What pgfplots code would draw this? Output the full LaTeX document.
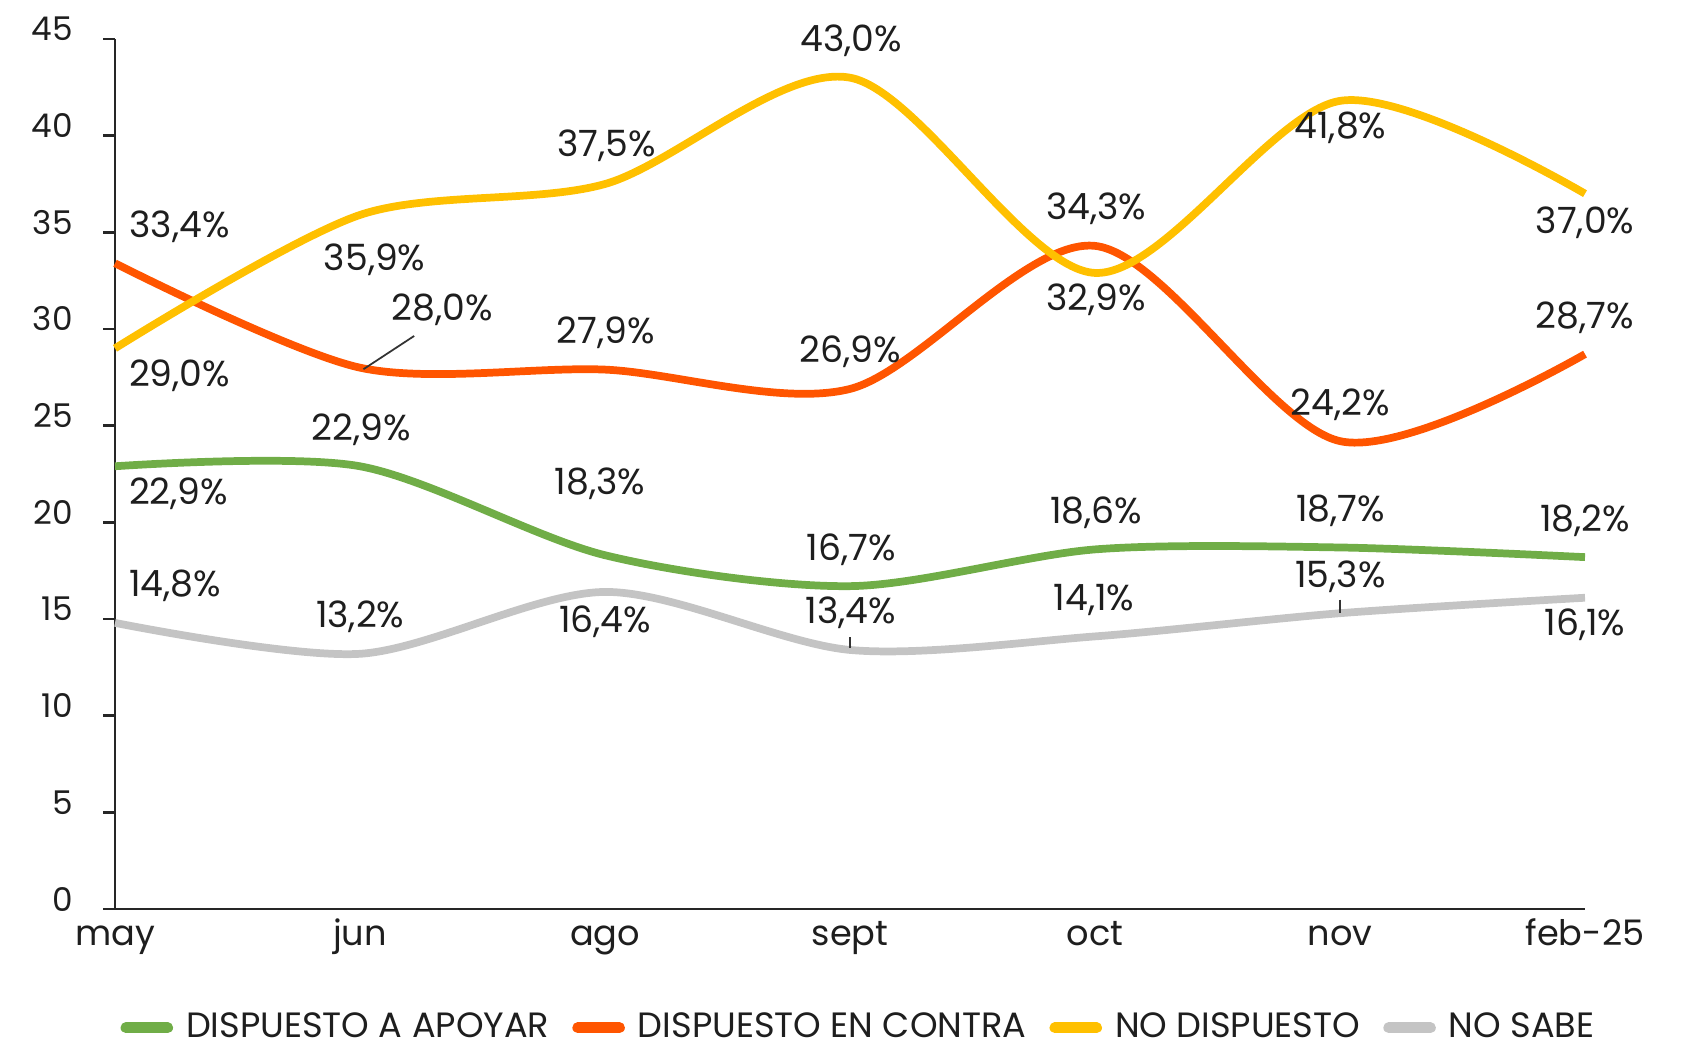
\documentclass[border=0pt]{standalone}
\usepackage{fontspec}
\setmainfont{Poppins}
\usepackage{pgfplots}
\pgfplotsset{compat=1.18}
\definecolor{cgreen}{HTML}{70AD47}
\definecolor{cred}{HTML}{FF5500}
\definecolor{cyellow}{HTML}{FFC000}
\definecolor{cgray}{HTML}{C4C4C4}
\definecolor{ctext}{HTML}{1E1E1E}
\begin{document}
\begin{tikzpicture}[font=\fontsize{10.3}{12}\selectfont, text=ctext]
\useasboundingbox (0,0) rectangle (168.7mm,104.5mm);
\begin{axis}[
  at={(11.5mm,13.6mm)}, anchor=south west,
  scale only axis, width=147mm, height=87mm,
  xmin=0, xmax=6, ymin=0, ymax=45,
  axis lines*=left,
  axis line style={draw=black!85, line width=0.7pt},
  ytick pos=left, xtick pos=bottom,
  tick align=outside,
  major tick length=1.2mm,
  y tick style={draw=black!85, line width=0.7pt},
  x tick style={draw=none},
  ytick={0,5,...,45},
  xtick={0,1,2,3,4,5,6},
  xticklabels={may,jun,ago,sept,oct,nov,feb-25},
  /pgf/number format/assume math mode=true,
  yticklabel style={yshift=1mm, xshift=-1.8mm, font=\fontsize{9.3}{11}\selectfont, text=ctext},
  xticklabel style={anchor=base, yshift=-2.4mm, font=\fontsize{10}{12}\selectfont, text=ctext},
  clip=false,
  legend style={at={(0.5075,-0.1365)}, anchor=center, draw=none, fill=none,
    legend columns=4, font=\fontsize{10}{12}\selectfont, text=ctext,
    /tikz/every even column/.append style={column sep=1.6mm},
    /tikz/every odd column/.append style={column sep=0.6mm}},
  legend cell align=left,
  legend image code/.code={\draw[#1, line width=3pt, line cap=round] (0mm,0mm) -- (4.2mm,0mm);},
]
\addplot[cgreen, line width=2.2pt, smooth, tension=0.5] coordinates {(0,22.9)(1,22.9)(2,18.3)(3,16.7)(4,18.6)(5,18.7)(6,18.2)};
\addlegendentry{DISPUESTO A APOYAR}
\addplot[cred, line width=2.2pt, smooth, tension=0.5] coordinates {(0,33.4)(1,28.0)(2,27.9)(3,26.9)(4,34.3)(5,24.2)(6,28.7)};
\addlegendentry{DISPUESTO EN CONTRA}
\addplot[cyellow, line width=2.2pt, smooth, tension=0.5] coordinates {(0,29.0)(1,35.9)(2,37.5)(3,43.0)(4,32.9)(5,41.8)(6,37.0)};
\addlegendentry{NO DISPUESTO}
\addplot[cgray, line width=2.2pt, smooth, tension=0.5] coordinates {(0,14.8)(1,13.2)(2,16.4)(3,13.4)(4,14.1)(5,15.3)(6,16.1)};
\addlegendentry{NO SABE}

\draw[black!80, line width=0.5pt] (axis cs:1.221,29.64) -- (axis cs:1.014,27.92);
\draw[black!80, line width=0.5pt] (axis cs:3.0,14.05) -- (axis cs:3.0,13.5);
\draw[black!80, line width=0.5pt] (axis cs:5.0,16.0) -- (axis cs:5.0,15.3);

% may
\node at (axis cs:0.264,35.3) {33,4\%};
\node at (axis cs:0.264,27.6) {29,0\%};
\node at (axis cs:0.26,21.5) {22,9\%};
\node at (axis cs:0.246,16.7) {14,8\%};
% jun
\node at (axis cs:1.06,33.6) {35,9\%};
\node at (axis cs:1.335,31.0) {28,0\%};
\node at (axis cs:1.006,24.8) {22,9\%};
\node at (axis cs:1.001,15.1) {13,2\%};
% ago
\node at (axis cs:2.007,39.5) {37,5\%};
\node at (axis cs:2.003,29.8) {27,9\%};
\node at (axis cs:1.98,22.0) {18,3\%};
\node at (axis cs:2.0,14.85) {16,4\%};
% sept
\node at (axis cs:3.004,44.9) {43,0\%};
\node at (axis cs:3.0,28.8) {26,9\%};
\node at (axis cs:3.004,18.6) {16,7\%};
\node at (axis cs:3.004,15.3) {13,4\%};
% oct
\node at (axis cs:4.005,36.2) {34,3\%};
\node at (axis cs:4.005,31.5) {32,9\%};
\node at (axis cs:4.005,20.5) {18,6\%};
\node at (axis cs:3.996,16.0) {14,1\%};
% nov
\node at (axis cs:5.002,40.4) {41,8\%};
\node at (axis cs:5.002,26.1) {24,2\%};
\node at (axis cs:5.002,20.6) {18,7\%};
\node at (axis cs:5.002,17.2) {15,3\%};
% feb-25
\node at (axis cs:6.0,35.5) {37,0\%};
\node at (axis cs:6.0,30.6) {28,7\%};
\node at (axis cs:6.0,20.1) {18,2\%};
\node at (axis cs:6.0,14.7) {16,1\%};
\end{axis}
\end{tikzpicture}
\end{document}
